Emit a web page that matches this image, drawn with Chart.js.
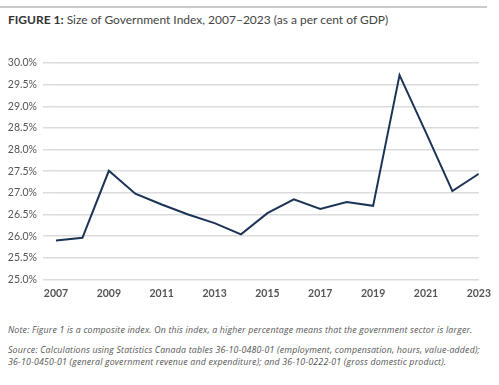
<!DOCTYPE html>
<html>
<head>
<meta charset="utf-8">
<script src="https://cdn.jsdelivr.net/npm/chart.js@4"></script>
<style>
  body { margin: 0; width: 499px; height: 385px; background: #fff; font-family: Lato, "Open Sans", sans-serif; position: relative; overflow: hidden; }
  .rule { position: absolute; left: 0; top: 6px; width: 487px; height: 2px; background: #c9c9c9; }
  .title { position: absolute; left: 8px; top: 12px; font-size: 12px; color: #444; white-space: nowrap; }
  .title b { color: #333; }
  .chartBox { position: absolute; left: 0; top: 50px; width: 499px; height: 258px; }
  .notes { position: absolute; left: 8px; top: 324px; font-family: "Open Sans", sans-serif; font-size: 8.8px; letter-spacing: 0.18px; font-style: italic; color: #555; line-height: 12px; white-space: nowrap; }
  .notes p { margin: 0 0 8px 0; }
</style>
</head>
<body>
<div class="rule"></div>
<div class="title"><b>FIGURE 1:</b> Size of Government Index, 2007–2023 (as a per cent of GDP)</div>
<div class="chartBox"><canvas id="chart"></canvas></div>
<div class="notes">
  <p>Note: Figure 1 is a composite index. On this index, a higher percentage means that the government sector is larger.</p>
  <p>Source: Calculations using Statistics Canada tables 36-10-0480-01 (employment, compensation, hours, value-added);<br>36-10-0450-01 (general government revenue and expenditure); and 36-10-0222-01 (gross domestic product).</p>
</div>
<script>
// valores
const years = [2007, 2008, 2009, 2010, 2011, 2012, 2013, 2014, 2015, 2016, 2017, 2018, 2019, 2020, 2021, 2022, 2023];
const sizeOfGovernment = [25.90, 25.96, 27.51, 26.98, 26.73, 26.50, 26.30, 26.04, 26.53, 26.85, 26.63, 26.79, 26.70, 29.72, 28.39, 27.04, 27.44];
const yTicks = [25.0, 25.5, 26.0, 26.5, 27.0, 27.5, 28.0, 28.5, 29.0, 29.5, 30.0];

const ctx = document.getElementById('chart');

new Chart(ctx, {
  type: 'line',
  data: {
    datasets: [
      {
        data: years.map((year, i) => ({ x: year, y: sizeOfGovernment[i] })),
        borderColor: '#1b3456',
        borderWidth: 2,
        pointRadius: 0,
        tension: 0,
        fill: false,
      },
    ],
  },
  options: {
    responsive: true,
    maintainAspectRatio: false,
    animation: false,
    layout: { padding: { top: 13, right: 17, bottom: 0, left: 0 } },
    plugins: { legend: { display: false }, tooltip: { enabled: false } },
    scales: {
      x: {
        type: 'linear',
        min: years[0],
        max: years[years.length - 1],
        grid: { display: false, drawTicks: false },
        border: { display: false },
        ticks: {
          stepSize: 2,
          padding: 8,
          color: '#555',
          font: { family: 'Lato', size: 10.5, weight: 'bold' },
          callback: (value) => String(value),
        },
      },
      y: {
        min: yTicks[0],
        max: yTicks[yTicks.length - 1],
        afterFit: (scale) => { scale.width = 56; },
        afterBuildTicks: (scale) => { scale.ticks = yTicks.map((v) => ({ value: v })); },
        grid: { color: '#dcdcdc', lineWidth: 1.5, tickLength: 13, tickColor: '#dcdcdc' },
        border: { display: false },
        ticks: {
          padding: 6,
          color: '#555',
          font: { family: 'Lato', size: 10.5 },
          callback: (value) => value.toFixed(1) + '%',
        },
      },
    },
  },
});
</script>
</body>
</html>
